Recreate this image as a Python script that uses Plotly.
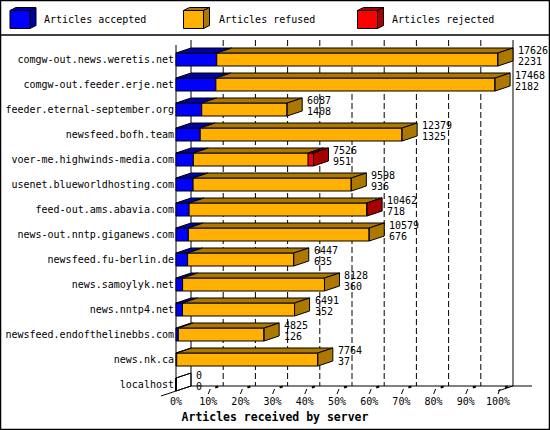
import plotly.graph_objects as go

# ---------------- data ----------------
servers = [
    "comgw-out.news.weretis.net",
    "comgw-out.feeder.erje.net",
    "feeder.eternal-september.org",
    "newsfeed.bofh.team",
    "voer-me.highwinds-media.com",
    "usenet.blueworldhosting.com",
    "feed-out.ams.abavia.com",
    "news-out.nntp.giganews.com",
    "newsfeed.fu-berlin.de",
    "news.samoylyk.net",
    "news.nntp4.net",
    "newsfeed.endofthelinebbs.com",
    "news.nk.ca",
    "localhost",
]
total = [17626, 17468, 6087, 12379, 7526, 9598, 10462, 10579, 6447, 8128, 6491, 4825, 7764, 0]
accepted = [2231, 2182, 1408, 1325, 951, 936, 718, 676, 635, 360, 352, 126, 37, 0]
refused = [15395, 15286, 4679, 11054, 6285, 8662, 9729, 9903, 5812, 7768, 6139, 4699, 7727, 0]
rejected = [0, 0, 0, 0, 290, 0, 15, 0, 0, 0, 0, 0, 0, 0]
pct_ticks = [0, 10, 20, 30, 40, 50, 60, 70, 80, 90, 100]
tick_labels = ["0%", "10%", "20%", "30%", "40%", "50%", "60%", "70%", "80%", "90%", "100%"]
series_names = ["Articles accepted", "Articles refused", "Articles rejected"]

# ---------------- styling / geometry ----------------
W, H_FIG = 550, 430
FONT = "DejaVu Sans Mono"
COL = ["#0000FF", "#FFB000", "#FF0000"]
DARK = ["#0000A8", "#AC7800", "#A80000"]

MAXV = max(total)
X0PX, SPANPX = 176.0, 322.0          # pixel of 0 % and width of 100 %
XS = MAXV / SPANPX                   # articles per pixel
ROW0PX, PITCH = 59.5, 25.0           # pixel centre of first row, row pitch


def xd(px):
    return (px - X0PX) * XS


def yd(py):
    return (py - ROW0PX) / PITCH


DX = 15 * XS      # depth (x) in data units
DY = 5 / PITCH    # depth (y) in row units
HB = 6.5 / PITCH  # half bar height
rows = list(range(len(servers)))
tickvals_x = [MAXV * p / 100 for p in pct_ticks]

fig = go.Figure()

# ---------------- front faces (bars) ----------------
bases = [
    [0] * len(rows),
    accepted,
    [a + r for a, r in zip(accepted, refused)],
]
values = [accepted, refused, rejected]
for k in range(3):
    fig.add_trace(go.Bar(
        y=rows, x=values[k], base=bases[k], orientation="h", width=2 * HB,
        marker=dict(color=COL[k], line=dict(color="black", width=1)),
        name=series_names[k], showlegend=False, hoverinfo="skip",
    ))

# ---------------- top faces and side faces ----------------
tops = [([], []) for _ in range(3)]
sides = [([], []) for _ in range(3)]
empty_side = ([], [])
for i in rows:
    yt = i - HB
    yb = i + HB
    last = None
    for k in range(3):
        v = values[k][i]
        if v <= 0:
            continue
        x0 = bases[k][i]
        x1 = x0 + v
        tx, ty = tops[k]
        tx += [x0, x1, x1 + DX, x0 + DX, x0, None]
        ty += [yt, yt, yt - DY, yt - DY, yt, None]
        last = k
    end = total[i]
    sx_ = [end, end + DX, end + DX, end, end, None]
    sy_ = [yt, yt - DY, yb - DY, yb, yt, None]
    if last is None:
        empty_side[0].extend(sx_)
        empty_side[1].extend(sy_)
        empty_side[0].extend([0, DX, None])
        empty_side[1].extend([yt, yt - DY, None])
    else:
        sides[last][0].extend(sx_)
        sides[last][1].extend(sy_)

for k in range(3):
    for xs, ys in (tops[k], sides[k]):
        if xs:
            fig.add_trace(go.Scatter(
                x=xs, y=ys, mode="lines", fill="toself", fillcolor=DARK[k],
                line=dict(color="black", width=1), showlegend=False, hoverinfo="skip",
            ))
fig.add_trace(go.Scatter(
    x=empty_side[0], y=empty_side[1], mode="lines",
    line=dict(color="black", width=1), showlegend=False, hoverinfo="skip",
))

# ---------------- value labels ----------------
ann = []
for i in rows:
    ann.append(dict(x=total[i] + DX, y=i, xref="x", yref="y", text=str(total[i]),
                    showarrow=False, xanchor="left", yanchor="middle", xshift=3, yshift=9.5,
                    font=dict(family=FONT, size=10, color="black")))
    ann.append(dict(x=total[i] + DX, y=i, xref="x", yref="y", text=str(accepted[i]),
                    showarrow=False, xanchor="left", yanchor="middle", xshift=3, yshift=-1.5,
                    font=dict(family=FONT, size=10, color="black")))

# ---------------- walls, grid, floor ----------------
shapes = []
y_top_back = yd(40)
y_floor_back = len(rows) - 1 + HB - DY
y_floor_front = len(rows) - 1 + HB
for tv in tickvals_x[1:-1]:
    shapes.append(dict(type="line", xref="x", yref="y", layer="below",
                       x0=tv + DX, x1=tv + DX, y0=y_top_back, y1=y_floor_back,
                       line=dict(color="black", width=1, dash="6px,3px")))
for tv in (tickvals_x[0], tickvals_x[-1]):
    shapes.append(dict(type="line", xref="x", yref="y", layer="below",
                       x0=tv + DX, x1=tv + DX, y0=y_top_back, y1=y_floor_back,
                       line=dict(color="black", width=1)))
shapes.append(dict(type="line", xref="x", yref="y", layer="below",
                   x0=0, x1=0, y0=yd(45), y1=y_floor_front,
                   line=dict(color="black", width=1)))
shapes.append(dict(type="line", xref="x", yref="y", layer="below",
                   x0=DX, x1=tickvals_x[-1] + DX + xd(X0PX + 19), y0=y_floor_back, y1=y_floor_back,
                   line=dict(color="black", width=1)))
shapes.append(dict(type="line", xref="x", yref="y", layer="below",
                   x0=-DX, x1=DX, y0=y_floor_front + DY, y1=y_floor_back,
                   line=dict(color="black", width=1)))
shapes.append(dict(type="line", xref="x", yref="y", layer="below",
                   x0=tickvals_x[-1], x1=tickvals_x[-1] + DX, y0=y_floor_front, y1=y_floor_back,
                   line=dict(color="black", width=1)))
for tv in tickvals_x[1:]:
    shapes.append(dict(type="line", xref="x", yref="y",
                       x0=tv, x1=tv + 2 * XS, y0=yd(394), y1=yd(389),
                       line=dict(color="black", width=1)))
    shapes.append(dict(type="line", xref="x", yref="y",
                       x0=tv + 7 * XS, x1=tv + 10 * XS, y0=yd(387.5), y1=yd(386.5),
                       line=dict(color="black", width=2)))

# ---------------- legend (custom 3D boxes) ----------------
def P(px, py):
    return px / W, 1 - py / H_FIG


def poly(pts):
    s = ""
    for j, (px, py) in enumerate(pts):
        x, y = P(px, py)
        s += ("M" if j == 0 else "L") + f"{x:.5f},{y:.5f}"
    return s + "Z"


leg_x = [10, 183.5, 357.5]
txt_x = [42, 216.5, 390]
for k in range(3):
    bx = leg_x[k]
    fx0, fx1, fy0, fy1 = bx, bx + 20, 10.5, 28.5
    ddx, ddy = 6, 3
    shapes.append(dict(type="path", xref="paper", yref="paper", fillcolor=DARK[k],
                       line=dict(color="black", width=1),
                       path=poly([(fx0, fy0), (fx1, fy0), (fx1 + ddx, fy0 - ddy), (fx0 + ddx, fy0 - ddy)])))
    shapes.append(dict(type="path", xref="paper", yref="paper", fillcolor=DARK[k],
                       line=dict(color="black", width=1),
                       path=poly([(fx1, fy0), (fx1 + ddx, fy0 - ddy), (fx1 + ddx, fy1 - ddy), (fx1, fy1)])))
    shapes.append(dict(type="path", xref="paper", yref="paper", fillcolor=COL[k],
                       line=dict(color="black", width=1),
                       path=poly([(fx0, fy0), (fx1, fy0), (fx1, fy1), (fx0, fy1)])))
    tx, ty = P(txt_x[k], 20)
    ann.append(dict(x=tx, y=ty, xref="paper", yref="paper", text=series_names[k],
                    showarrow=False, xanchor="left", yanchor="middle",
                    font=dict(family=FONT, size=10, color="black")))

# separator & frame
sx0, sy0 = P(0, 35)
shapes.append(dict(type="line", xref="paper", yref="paper", x0=0, x1=1, y0=sy0, y1=sy0,
                   line=dict(color="black", width=1.5)))
shapes.append(dict(type="rect", xref="paper", yref="paper", x0=0.5 / W, x1=1 - 0.5 / W,
                   y0=0.5 / H_FIG, y1=1 - 0.5 / H_FIG, line=dict(color="black", width=1.5)))

fig.update_layout(
    width=W, height=H_FIG,
    margin=dict(l=0, r=0, t=0, b=0, pad=0),
    paper_bgcolor="white", plot_bgcolor="white",
    barmode="overlay", showlegend=False,
    font=dict(family=FONT, size=10, color="black"),
    shapes=shapes, annotations=ann,
    xaxis=dict(
        range=[xd(0), xd(W)], domain=[0, 1], anchor="free", position=1 - 391 / H_FIG,
        showgrid=False, zeroline=False, showline=False, ticks="",
        tickmode="array", tickvals=tickvals_x, ticktext=tick_labels,
        tickfont=dict(family=FONT, size=10, color="black"), ticklabelstandoff=3,
        title=dict(text="<b>Articles received by server</b>", standoff=6,
                   font=dict(family=FONT, size=11.5, color="black")),
        fixedrange=True,
    ),
    yaxis=dict(
        range=[yd(H_FIG), yd(0)], domain=[0, 1], anchor="free", position=X0PX / W,
        showgrid=False, zeroline=False, showline=False, ticks="",
        tickmode="array", tickvals=rows, ticktext=servers,
        tickfont=dict(family=FONT, size=10, color="black"), ticklabelstandoff=2,
        fixedrange=True,
    ),
)

fig.write_html(
    "out.html",
    config={"displayModeBar": False},
    post_script="document.body.style.margin='0px';document.body.style.padding='0px';",
)
